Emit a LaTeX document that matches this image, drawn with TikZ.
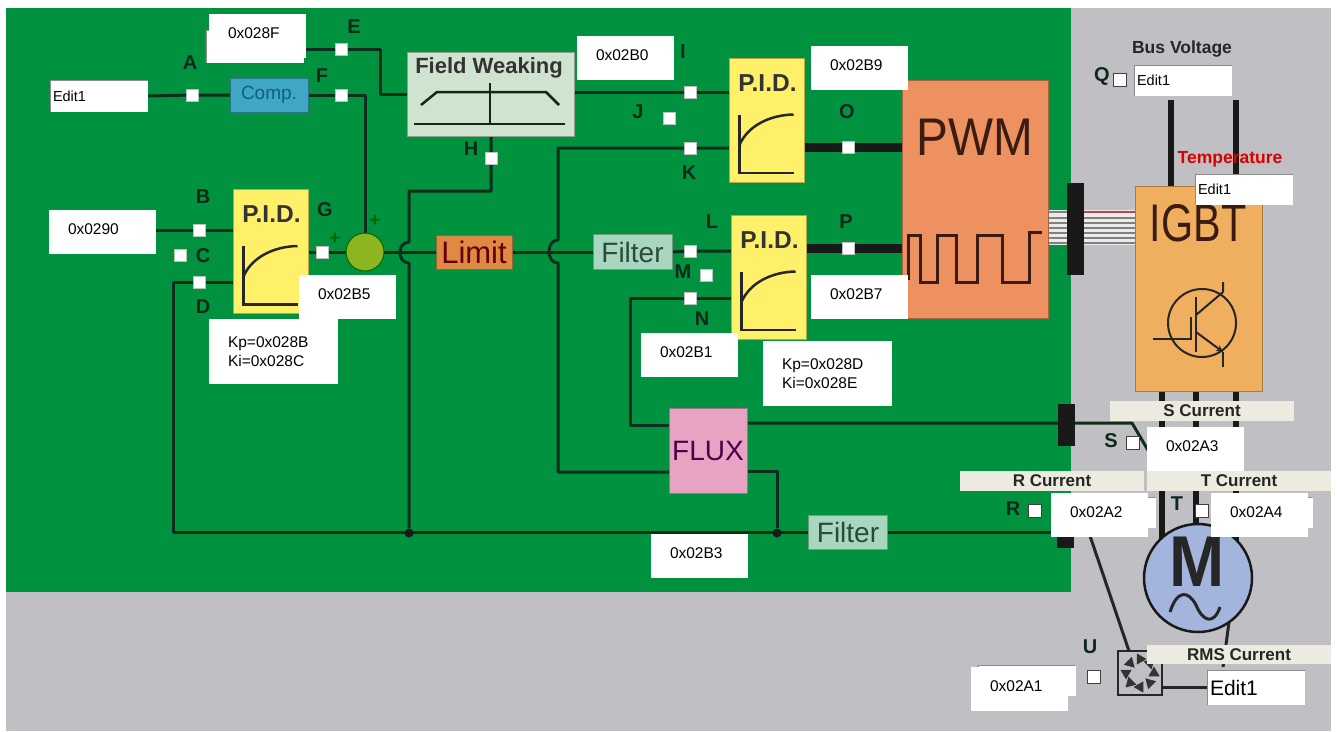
\documentclass[tikz,border=0pt]{standalone}
\usepackage{fontspec}
\setmainfont{Liberation Sans}
\usetikzlibrary{shapes.geometric}
\newcommand{\pxfont}[1]{\fontsize{#1}{#1}\selectfont}
\definecolor{boardgreen}{HTML}{00923F}
\definecolor{panelgrey}{HTML}{C0BFC3}
\definecolor{wiredark}{HTML}{0C2E1A}
\definecolor{inkdark}{HTML}{10281A}
\definecolor{labelcream}{HTML}{EDEBE0}
\definecolor{compfill}{HTML}{3FA6C4}
\definecolor{compink}{HTML}{0E5F84}
\definecolor{fieldfill}{HTML}{CFE3CF}
\definecolor{pidfill}{HTML}{FFF06A}
\definecolor{sumfill}{HTML}{8DB520}
\definecolor{limitfill}{HTML}{DE8A45}
\definecolor{filterfill}{HTML}{A9D6BE}
\definecolor{filterink}{HTML}{2A4A3C}
\definecolor{fluxfill}{HTML}{E8A3C3}
\definecolor{pwmfill}{HTML}{EE9160}
\definecolor{pwmink}{HTML}{3A1C14}
\definecolor{igbtfill}{HTML}{F0AF5E}
\definecolor{motorfill}{HTML}{A3B5DC}
\pgfdeclarelayer{panel}
\pgfdeclarelayer{lines}
\pgfsetlayers{panel,lines,main}
\tikzset{
  block/.style={draw=#1!70!black, line width=1pt, fill=#1, inner sep=0pt, outer sep=0pt},
  wire/.style={draw=wiredark, line width=3pt, line join=round},
  power/.style={draw=black!90, line width=6pt},
  thickwire/.style={draw=black!90, line width=9pt},
  symbol/.style={draw=black!85, line width=2.5pt},
  probe/.style={draw=black!25, line width=1pt, fill=white, minimum size=12pt, inner sep=0pt, outer sep=0pt},
  checkbox/.style={draw=black!75, line width=1pt, fill=white, minimum size=13pt, inner sep=0pt, outer sep=0pt},
  letter/.style={font=\pxfont{20}\bfseries, text=inkdark, inner sep=0pt},
  hexbox/.style={fill=white, inner ysep=0pt, inner xsep=19pt, text width=59pt, minimum height=44pt,
    text height=11pt, text depth=6pt, align=left, font=\pxfont{15.5}},
  gainbox/.style={fill=white, inner ysep=0pt, inner xsep=19pt, text width=91pt, minimum height=65pt,
    align=left, font=\fontsize{15.5}{18.5}\selectfont},
  editbox/.style={fill=white, inner ysep=0pt, inner xsep=3pt, align=left, font=\pxfont{14.5},
    minimum height=31pt, text width=92pt, path picture={
      \draw[black!45, line width=2pt] (path picture bounding box.south west) |- (path picture bounding box.north east);}},
  capbox/.style={fill=labelcream, inner sep=0pt, minimum height=20pt, font=\pxfont{17}\bfseries, text=black!85},
  barnode/.style={fill=black!90, inner sep=0pt, outer sep=0pt, minimum width=17pt},
}
\begin{document}
\begin{tikzpicture}[x=1pt,y=-1pt]
  \useasboundingbox (0,0) rectangle (1337,731);

  % panels
  \begin{pgfonlayer}{panel}
    \fill[panelgrey] (6,8) rectangle (1331,731);
    \fill[boardgreen] (6,8) rectangle (1071,592);
  \end{pgfonlayer}

  % blocks
  \node[block=compfill, minimum width=78pt, minimum height=34pt, text=compink, font=\pxfont{19}] (comp) at (269,95) {Comp.};
  \node[block=fieldfill, minimum width=167pt, minimum height=84pt] (fieldW) at (490.5,94) {};
  \node[font=\pxfont{22}\bfseries, text=black!80] (fieldWtxt) at (489,68) {Field Weaking};
  \draw[symbol,draw=inkdark] (421,105) -- (437,92) -- (546,92) -- (559,105);
  \draw[symbol,draw=inkdark] (490,83) -- (490,124) (414,124) -- (565,124);
  \node[block=pidfill, minimum width=75pt, minimum height=124pt] (pidL) at (270.5,251.5) {};
  \node[block=pidfill, minimum width=75pt, minimum height=124pt] (pidA) at (766.5,120) {};
  \node[block=pidfill, minimum width=75pt, minimum height=124pt] (pidB) at (768.5,277) {};
  \foreach \p in {pidL,pidA,pidB} {
    \begin{scope}[shift={(\p.center)}]
      \node[font=\pxfont{24.5}\bfseries, text=black!80] (\p txt) at (1,-37) {P.I.D.};
      \draw[symbol] (-27,-5.5) -- (-27,53) -- (27,53);
      \draw[symbol] (-27,25) .. controls (-19,6) and (3,-5) .. (27,-5.5);
    \end{scope}
  }
  \node[circle, draw=green!40!black, line width=1pt, fill=sumfill, minimum size=38pt, inner sep=0pt, outer sep=0pt] (sum) at (365,252) {};
  \node[font=\pxfont{19}\bfseries, text=green!40!black] (plusA) at (375,221) {+};
  \node[font=\pxfont{19}\bfseries, text=green!40!black] (plusB) at (335,239) {+};
  \node[block=limitfill, minimum width=76pt, minimum height=34pt, text=red!40!black, font=\pxfont{31}] (limit) at (474,252) {Limit};
  \node[block=filterfill, minimum width=79pt, minimum height=35pt, text=filterink, font=\pxfont{28}] (filterA) at (632.5,252) {Filter};
  \node[block=filterfill, minimum width=79pt, minimum height=34pt, text=filterink, font=\pxfont{28}] (filterB) at (848,532) {Filter};
  \node[block=fluxfill, minimum width=78pt, minimum height=85pt, text=violet!60!black, font=\pxfont{28}] (flux) at (708,450.5) {FLUX};
  \node[block=pwmfill, minimum width=146pt, minimum height=238pt] (pwm) at (975,199) {};
  \node[font=\pxfont{53}, text=pwmink] (pwmtxt) at (975,137) {\scalebox{.9}[1]{PWM}};
  \draw[symbol,draw=pwmink,line width=3pt] (908,280) -- (908,235) -- (920,235) -- (920,282) -- (937,282) -- (937,235) -- (956,235) -- (956,282) -- (977,282) -- (977,235) -- (1002,235) -- (1002,282) -- (1029,282) -- (1029,232) -- (1042,232);
  \node[block=igbtfill, minimum width=127pt, minimum height=205pt] (igbt) at (1198.5,288.5) {};
  \node[font=\pxfont{53}, text=pwmink] (igbttxt) at (1198,223) {\scalebox{.78}[1]{IGBT}};
  \draw[symbol,line width=2pt] (1202,323) circle[radius=34];
  \draw[symbol,line width=2pt] (1153,339) -- (1191,339) -- (1191,317);
  \draw[symbol,line width=2pt] (1196,297) -- (1196,352);
  \draw[symbol,line width=2pt] (1196,315) -- (1223,292) (1223,282) -- (1223,292);
  \draw[symbol,line width=2pt,-stealth] (1196,332) -- (1223,352);
  \draw[symbol,line width=2pt] (1223,352) -- (1223,367);
  \node[circle, draw=black!90, line width=2.5pt, fill=motorfill, minimum size=108pt, inner sep=0pt, outer sep=0pt] (motor) at (1198,578) {};
  \node[font=\pxfont{72}\bfseries, text=black!85] (motortxt) at (1197,562) {\scalebox{.92}[1]{M}};
  \draw[symbol,line width=3pt] (1170,612) .. controls (1177,590) and (1188,590) .. (1196,605) .. controls (1203,622) and (1214,625) .. (1220,607);
  \node[draw=black!85, line width=2.5pt, fill=panelgrey, minimum size=44pt, inner sep=0pt, outer sep=0pt] (sensor) at (1140,673) {};
  \foreach \a in {0,45,...,315}
    \node[regular polygon, regular polygon sides=3, fill=black!80, minimum size=13pt, inner sep=0pt, rotate=\a] (blob\a) at ([shift={(\a:14)}]sensor) {};

  % black bars
  \node[barnode, minimum height=92pt] (barPwm) at (1075.5,229) {};
  \node[barnode, minimum height=42pt] (barS) at (1066,425) {};
  \node[barnode, minimum height=32pt] (barR) at (1065.5,532) {};

  % captions and edit fields
  \node[font=\pxfont{17.5}\bfseries, text=black!85] (busCap) at (1182,49) {Bus Voltage};
  \node[capbox, minimum width=184pt] (capS) at (1202,411) {S Current};
  \node[capbox, minimum width=184pt] (capR) at (1052,481) {R Current};
  \node[capbox, minimum width=184pt] (capT) at (1239,481) {T Current};
  \node[capbox, minimum width=184pt, minimum height=19pt] (capRms) at (1239,654.5) {RMS Current};
  \node[editbox, minimum height=32pt] (editA) at (99,96) {Edit1};
  \node[editbox] (editBus) at (1183,80.5) {Edit1};
  \node[font=\pxfont{17.5}\bfseries, text=red!85!black] (tempCap) at (1230,159) {Temperature};
  \node[editbox] (editTemp) at (1244,189.5) {Edit1};
  \node[editbox, minimum height=35pt, font=\pxfont{21}] (editRms) at (1256,687.5) {Edit1};
  \node[editbox, minimum height=33pt] (editE) at (254.5,46.5) {};
  \node[editbox] (editSr) at (1106.5,512.5) {};
  \node[editbox] (editTr) at (1263.5,512.5) {};
  \node[editbox] (editU) at (1026.5,680.5) {};

  % test points
  \foreach \n/\x/\y in {A/192/95,B/199/230,C/180/255,D/199/282,E/341/49,F/341/95,G/322/252,H/491/158,
      I/690/92,J/669/118,K/690/148,L/690/251,M/706/275,N/690/298,O/848/147,P/848/248}
    \node[probe] (\n) at (\x,\y) {};
  \foreach \n/\x/\y in {Q/1120/80,R/1035/511,S/1133/443,T/1202/511,U/1094/677}
    \node[checkbox] (\n) at (\x,\y) {};
  \foreach \n/\x/\y in {A/190/63,B/203/197,C/203/256,D/203/307,E/354/27,F/322/76,G/325/210,H/471/149,
      I/683/52,J/638/112,K/689/173,L/712/222,M/683/272,N/702/319,O/847/112,P/846/222,
      Q/1102/76,R/1013/509,S/1111/441,T/1177/504,U/1090/647}
    \node[letter] (txt\n) at (\x,\y) {\n};

  % register boxes
  \foreach \n/\x/\y in {028F/257.5/36,02B5/347.5/297,02B0/625.5/58,02B9/859.5/68,
      02B7/859.5/297,02B1/689.5/355,02A3/1195.5/449,02A2/1099.5/515,02A4/1259.5/515,02B3/699.5/556,02A1/1019.5/689}
    \node[hexbox] (hex\n) at (\x,\y) {0x\n};
  \node[hexbox, text width=69pt] (hex0290) at (102.5,232) {0x0290};
  \node[gainbox] (gainL) at (273.5,351.5) {Kp=0x028B\\Ki=0x028C\\[3pt]};
  \node[gainbox] (gainB) at (827.5,373.5) {Kp=0x028D\\Ki=0x028E\\[3pt]};

  % wires
  \coordinate (hopAt) at (409,242);
  \coordinate (hopAb) at (409,263);
  \coordinate (hopBt) at (558,240);
  \coordinate (hopBb) at (558,263);
  \coordinate (limitTurn) at (409,191);
  \coordinate (leftTurn) at (173,400);
  \coordinate (fluxWa) at (669,425);
  \coordinate (fluxWb) at (669,472);
  \coordinate (fluxEa) at (747,423);
  \coordinate (fluxEb) at (747,471);
  \coordinate (sBend) at (1132,423);
  \coordinate (sTail) at (1152,457);
  \coordinate (busL) at (1171,100);
  \coordinate (busR) at (1236,100);
  \coordinate (senseTop) at (1088,530);
  \coordinate (rmsIn) at (1223,667);
  \coordinate (ribTop) at (0,210);
  \coordinate (ribBot) at (0,245);
  \node[circle, fill=black!90, minimum size=9pt, inner sep=0pt] (juncPid) at (409,533) {};
  \node[circle, fill=black!90, minimum size=9pt, inner sep=0pt] (juncFlux) at (777,533) {};
  \begin{pgfonlayer}{lines}
    \draw[wire] (hex028F.east |- E) -- (E) -- ++(39,0) |- (fieldW.west);
    \draw[wire] (editA.east) -- (A) -- (comp.west);
    \draw[wire] (comp.east) -- (F) -| (sum.north);
    \draw[wire] (hex0290.east |- B) -- (B) -- (pidL.west |- B);
    \draw[wire] (filterB.west) -| (leftTurn) |- (D) -- (pidL.west |- D);
    \draw[wire] (pidL.east |- G) -- (G) -- (sum.west);
    \draw[wire] (sum.east) -- (limit.west);
    \draw[wire] (limit.east) -- (filterA.west);
    \draw[wire] (fieldW.south -| H) -- (H) |- (limitTurn) -- (hopAt) .. controls (397,242) and (397,263) .. (hopAb) -- (juncPid);
    \draw[wire] (fieldW.east |- I) -- (I) -- (pidA.west |- I);
    \draw[wire] (pidA.west |- K) -- (K) -| (hopBt) .. controls (546,240) and (546,263) .. (hopBb) |- (fluxWb);
    \draw[wire] (filterA.east) -- (L) -- (pidB.west |- L);
    \draw[wire] (pidB.west |- N) -- (N) -- ++(-60,0) |- (fluxWa);
    \draw[wire] (fluxEa) -- (sBend) -- (sTail);
    \draw[wire] (fluxEb) -| (juncFlux);
    \draw[wire] (filterB.east) -- (filterB.east -| hex02A2.west);
    \draw[thickwire] (pidA.east |- O) -- (O) -- (pwm.west |- O);
    \draw[thickwire] (pidB.east |- P) -- (P) -- (pwm.west |- P);
    % ribbon to the driver
    \fill[black!8] (pwm.east |- ribTop) rectangle (igbt.west |- ribBot);
    \foreach \y in {212,218,223,228,233,238,243} {
      \coordinate (rib\y) at (0,\y);
      \draw[gray, line width=1.5pt] (pwm.east |- rib\y) -- (igbt.west |- rib\y);
    }
    \draw[red!40!gray, line width=1.5pt] (barPwm.east |- rib212) -- (igbt.west |- rib212);
    % supply and phases
    \draw[power] (busL) -- (busL |- igbt.north);
    \draw[power] (busR) -- (busR |- igbt.north);
    \foreach \p/\x in {a/1162,b/1196,c/1236} {
      \coordinate (ph\p) at (\x,391);
      \draw[power] (ph\p) -- (ph\p |- motor.center);
    }
    \draw[wire,draw=black!85] (senseTop) -- ([xshift=-11pt]sensor.north);
    \draw[wire,draw=black!85] (sensor.east |- editRms.west) -- (editRms.west);
    \draw[wire,draw=black!85] (motor.-55) -- (rmsIn);
  \end{pgfonlayer}
\end{tikzpicture}
\end{document}
